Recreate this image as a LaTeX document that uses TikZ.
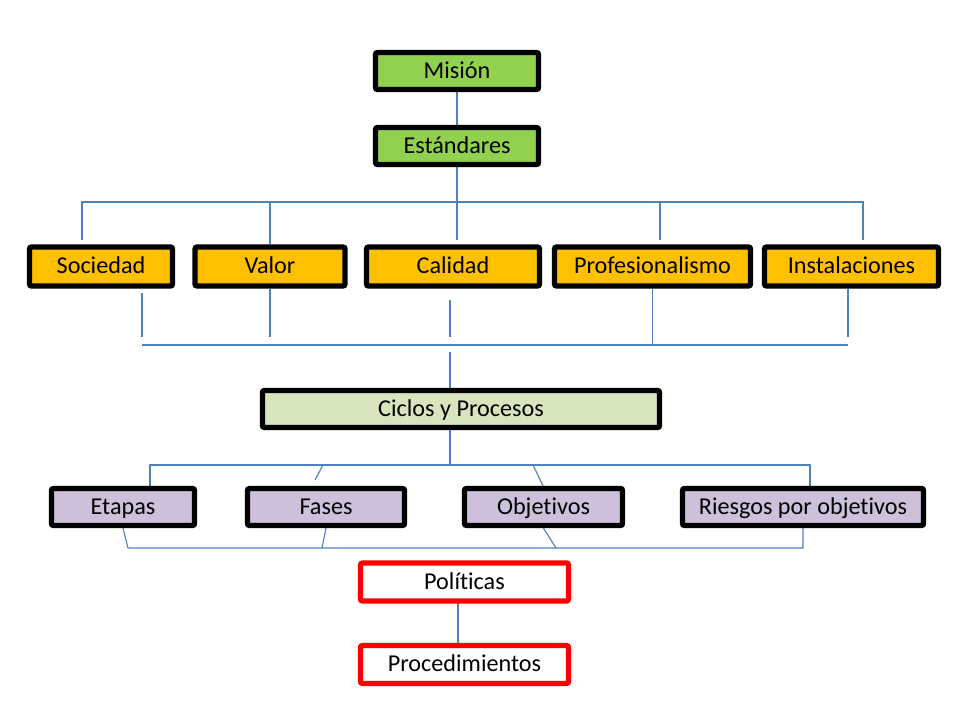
\documentclass[tikz,border=0pt]{standalone}
\usepackage{fontspec}
\setmainfont{Carlito}[Ligatures=NoCommon]
\usepackage{tikz}
\usetikzlibrary{backgrounds}

\definecolor{verde}{HTML}{92D050}
\definecolor{naranja}{HTML}{FFC000}
\definecolor{olivo}{HTML}{D7E4BD}
\definecolor{lila}{HTML}{CCC0DA}
\definecolor{rojo}{HTML}{FF0000}
\definecolor{linea}{HTML}{4F81BD}

\tikzset{
  caja/.style={draw=black, line width=3.8pt, rounded corners=1.5pt, inner sep=0pt,
    minimum height=0.95cm, text height=11.2pt, text depth=0.6pt,
    font=\fontsize{17.2}{20}\selectfont},
  verdebox/.style={caja, fill=verde, minimum height=0.925cm},
  naranjabox/.style={caja, fill=naranja, minimum height=0.975cm},
  olivobox/.style={caja, fill=olivo, minimum height=0.925cm},
  lilabox/.style={caja, fill=lila, minimum height=0.925cm},
  rojobox/.style={caja, draw=rojo, fill=white},
  conector/.style={draw=linea, line width=0.8pt},
}

\begin{document}
\begin{tikzpicture}[x=0.025cm, y=-0.025cm]
            \useasboundingbox (0,0) rectangle (960,720);

            \node[verdebox, minimum width=4.075cm] (mision) at (457,71) {Misión};
            \node[verdebox, minimum width=4.075cm] (estandares) at (457,146) {Estándares};

            \node[naranjabox, minimum width=3.575cm] (sociedad) at (101,266.5) {Sociedad};
            \node[naranjabox, minimum width=3.75cm] (valor) at (270,266.5) {Valor};
            \node[naranjabox, minimum width=4.325cm] (calidad) at (453,266.5) {Calidad};
            \node[naranjabox, minimum width=4.9cm] (profesionalismo) at (652.5,266.5) {Profesionalismo};
            \node[naranjabox, minimum width=4.35cm] (instalaciones) at (851.5,266.5) {Instalaciones};

            \node[olivobox, minimum width=9.925cm] (ciclos) at (461,409) {Ciclos y Procesos};

            \node[lilabox, minimum width=3.575cm] (etapas) at (123,507) {Etapas};
            \node[lilabox, minimum width=3.925cm] (fases) at (326,507) {Fases};
            \node[lilabox, minimum width=3.95cm] (objetivos) at (543.5,507) {Objetivos};
            \node[lilabox, minimum width=6.025cm] (riesgos) at (803,507) {Riesgos por objetivos};

            \node[rojobox, minimum width=5.2cm] (politicas) at (464.5,582) {Políticas};
            \node[rojobox, minimum width=5.2cm] (procedimientos) at (464.5,664.5) {Procedimientos};

            \coordinate (busarriba) at (82,202);
            \coordinate (caidasoc) at (82,240);
            \coordinate (caidaprof) at (660,240);
            \coordinate (caidainst) at (863,240);

            \coordinate (busmedio) at (142,345);
            \coordinate (soc1) at (142,293);
            \coordinate (soc2) at (142,337);
            \coordinate (cal1) at (450,300);
            \coordinate (cal2) at (450,352);
            \coordinate (ins1) at (848,337);

            \coordinate (busciclos) at (150,465);
            \coordinate (fas1) at (323,465);
            \coordinate (fas2) at (315,480);
            \coordinate (obj1) at (533,465);
            \coordinate (obj2) at (544,488);
            \coordinate (rie1) at (810,486);

            \coordinate (busabajo) at (128,548);
            \coordinate (fas3) at (322,548);
            \coordinate (obj3) at (556,548);
            \coordinate (pol1) at (458,603);

            \begin{pgfonlayer}{background}
            % arriba
            \draw[conector] (mision) -- (estandares);
            \draw[conector] (estandares.south) -- (estandares.south |- caidasoc);
            \draw[conector] (caidasoc) -- (busarriba) -- (busarriba -| caidainst) -- (caidainst);
            \draw[conector] (valor.north) -- (valor.north |- busarriba);
            \draw[conector] (caidaprof) -- (caidaprof |- busarriba);

            % medio
            \draw[conector] (soc1) -- (soc2);
            \draw[conector] (valor.south) -- (valor.south |- soc2);
            \draw[conector] (cal1) -- (cal1 |- soc2);
            \draw[conector] (profesionalismo.south) -- (profesionalismo.south |- busmedio);
            \draw[conector] (instalaciones.south -| ins1) -- (ins1);
            \draw[conector] (busmedio) -- (busmedio -| ins1);
            \draw[conector] (cal2) -- (cal2 |- ciclos.north);

            % ciclos
            \draw[conector] (ciclos.south -| cal2) -- (cal2 |- busciclos);
            \draw[conector] (etapas.north -| busciclos) -- (busciclos) -- (busciclos -| rie1) -- (rie1);
            \draw[conector] (fas1) -- (fas2);
            \draw[conector] (obj1) -- (obj2);

            % abajo
            \draw[conector] (etapas.south) -- (busabajo) -- (busabajo -| riesgos.south) -- (riesgos.south);
            \draw[conector] (fases.south) -- (fas3);
            \draw[conector] (objetivos.south) -- (obj3);
            \draw[conector] (pol1) -- (pol1 |- procedimientos.north);
            \end{pgfonlayer}
        \end{tikzpicture}
\end{document}
